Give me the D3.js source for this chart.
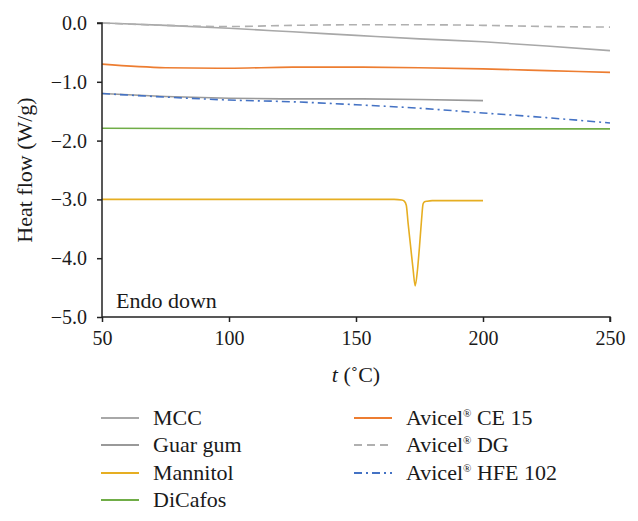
<!DOCTYPE html>
<html>
<head>
<meta charset="utf-8">
<script src="https://cdn.jsdelivr.net/npm/d3@7"></script>
<style>
  html, body { margin: 0; padding: 0; background: #fff; }
  svg { display: block; }
  text { font-family: "Liberation Serif", "Times New Roman", serif; fill: #1a1a1a; }
</style>
</head>
<body>
<svg id="chart" width="638" height="521"></svg>
<script>
// ---- data ----
const gridT = [50, 75, 100, 125, 150, 175, 200, 225, 250];
const mccValues = [0.00, -0.04, -0.09, -0.15, -0.21, -0.27, -0.32, -0.39, -0.47];
const guarT = [50, 75, 100, 125, 150, 175, 200];
const guarValues = [-1.20, -1.25, -1.28, -1.29, -1.29, -1.30, -1.32];
const mannitolT = [50, 100, 150, 165, 168, 169, 169.8, 170.5, 171.5, 172.5, 173.3, 174.2, 175, 175.8, 176.4, 177, 178, 180, 200];
const mannitolValues = [-3.00, -3.00, -3.00, -3.00, -3.01, -3.03, -3.10, -3.40, -3.80, -4.20, -4.47, -4.20, -3.80, -3.35, -3.08, -3.04, -3.03, -3.02, -3.02];
const dicafosT = [50, 150, 250];
const dicafosValues = [-1.79, -1.80, -1.80];
const ce15Values = [-0.70, -0.76, -0.77, -0.75, -0.75, -0.76, -0.78, -0.81, -0.84];
const dgValues = [0.00, -0.04, -0.06, -0.04, -0.03, -0.03, -0.04, -0.06, -0.07];
const hfeValues = [-1.20, -1.26, -1.31, -1.34, -1.39, -1.45, -1.53, -1.61, -1.70];

const xTicks = [50, 100, 150, 200, 250];
const yTicks = [0, -1, -2, -3, -4, -5];
const seriesNames = ["MCC", "Guar gum", "Mannitol", "DiCafos", "Avicel\u00AE CE 15", "Avicel\u00AE DG", "Avicel\u00AE HFE 102"];

// ---- series table ----
const series = [
  { name: seriesNames[0], t: gridT, v: mccValues, color: "#a8a8a8", dash: null },
  { name: seriesNames[1], t: guarT, v: guarValues, color: "#999999", dash: null },
  { name: seriesNames[2], t: mannitolT, v: mannitolValues, color: "#e6ae22", dash: null },
  { name: seriesNames[3], t: dicafosT, v: dicafosValues, color: "#70ad47", dash: null },
  { name: seriesNames[4], t: gridT, v: ce15Values, color: "#ed7d31", dash: null },
  { name: seriesNames[5], t: gridT, v: dgValues, color: "#b0b0b0", dash: "8,5" },
  { name: seriesNames[6], t: gridT, v: hfeValues, color: "#4472c4", dash: "8,4,2,4" }
];

const svg = d3.select("#chart");
const x = d3.scaleLinear().domain([50, 250]).range([102, 610]);
const y = d3.scaleLinear().domain([-5, 0]).range([317, 23]);

const line = d3.line().x(d => x(d[0])).y(d => y(d[1])).curve(d3.curveMonotoneX);
const order = [3, 1, 6, 4, 0, 5, 2];
order.forEach(i => {
  const s = series[i];
  svg.append("path")
    .datum(s.t.map((t, k) => [t, s.v[k]]))
    .attr("fill", "none")
    .attr("stroke", s.color)
    .attr("stroke-width", 1.6)
    .attr("stroke-dasharray", s.dash)
    .attr("d", line);
});

// axes
const axisColor = "#222";
const xAxis = svg.append("g").attr("transform", `translate(0,${y(-5)})`)
  .call(d3.axisBottom(x).tickValues(xTicks).tickSize(5).tickPadding(9).tickFormat(d3.format("d")));
const yAxis = svg.append("g").attr("transform", `translate(${x(50)},0)`)
  .call(d3.axisLeft(y).tickValues(yTicks).tickSize(5).tickPadding(10).tickFormat(d => d3.format(".1f")(d).replace("-", "\u2212")));
[xAxis, yAxis].forEach(g => {
  g.select(".domain").attr("stroke", axisColor).attr("stroke-width", 1.5);
  g.selectAll(".tick line").attr("stroke", axisColor).attr("stroke-width", 1.5);
  g.selectAll(".tick text").attr("font-size", 20).attr("fill", "#1a1a1a");
});
yAxis.select(".domain").attr("d", `M-5,${y(0)}H0V${y(-5)}`);
xAxis.select(".domain").attr("d", `M${x(50)},0H${x(250)}V5`);

// Endo down
svg.append("text").attr("x", 116).attr("y", 308).attr("font-size", 22).text("Endo down");

// axis labels
const xl = svg.append("text").attr("x", 356).attr("y", 382).attr("text-anchor", "middle").attr("font-size", 22);
xl.append("tspan").attr("font-style", "italic").text("t");
xl.append("tspan").text(" (\u02DAC)");

svg.append("text")
  .attr("transform", `translate(32,170) rotate(-90)`)
  .attr("text-anchor", "middle").attr("font-size", 22)
  .text("Heat flow (W/g)");

// legend
const legendPos = [
  { lx: 101, ty: 418 }, { lx: 101, ty: 445 }, { lx: 101, ty: 473 }, { lx: 101, ty: 500 },
  { lx: 354, ty: 418 }, { lx: 354, ty: 445 }, { lx: 354, ty: 473 }
];
series.forEach((s, i) => {
  const p = legendPos[i];
  const g = svg.append("g");
  g.append("line").attr("x1", p.lx).attr("x2", p.lx + 38).attr("y1", p.ty).attr("y2", p.ty)
    .attr("stroke", s.color).attr("stroke-width", 1.8).attr("stroke-dasharray", s.dash);
  const t = g.append("text").attr("x", p.lx + 52).attr("y", p.ty + 7).attr("font-size", 22);
  if (s.name.indexOf("\u00AE") >= 0) {
    const parts = s.name.split("\u00AE");
    t.append("tspan").text(parts[0]);
    t.append("tspan").attr("font-size", 11).attr("dy", -8).text("\u00AE");
    t.append("tspan").attr("dy", 8).text(parts[1]);
  } else {
    t.text(s.name);
  }
});
</script>
</body>
</html>
